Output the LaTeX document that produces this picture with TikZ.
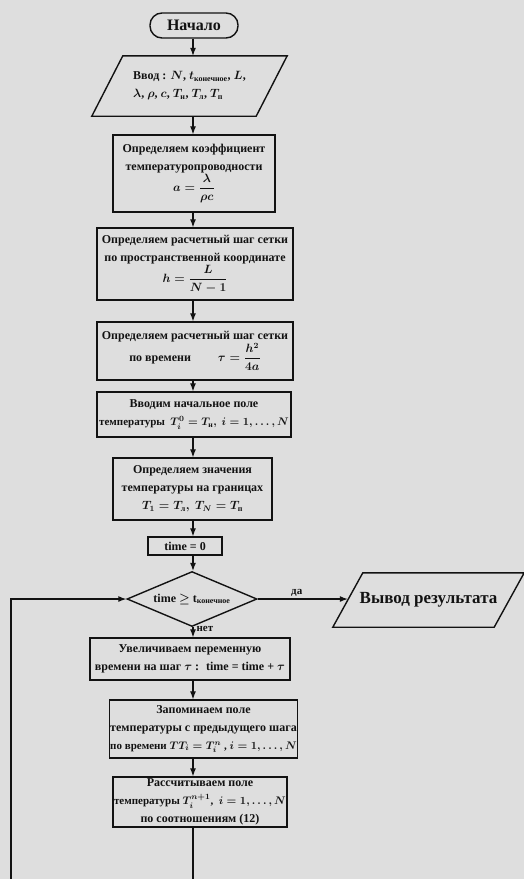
\documentclass[tikz,border=0pt]{standalone}
\usepackage{amsmath}
\usepackage{fontspec}
\setmainfont{Liberation Serif}
\usepackage{tikz}
\usetikzlibrary{positioning, shapes.geometric, arrows.meta}
\definecolor{fcPaper}{RGB}{222, 222, 222}
\definecolor{fcInk}{RGB}{18, 18, 18}
\tikzset{
    base/.style={
        font=\fontsize{12}{18}\selectfont\bfseries\boldmath,
        align=center,
        text=fcInk
    },
    block/.style={
        base,
        rectangle,
        draw=fcInk,
        line width=1.4pt,
        inner sep=1pt
    },
    terminal/.style={
        base,
        rectangle,
        rounded corners=12pt,
        draw=fcInk,
        line width=1.4pt,
        font=\fontsize{16}{18}\selectfont\bfseries
    },
    io/.style={
        base,
        rectangle,
        inner sep=1pt
    },
    decision/.style={
        base,
        diamond,
        draw=fcInk,
        line width=1.4pt,
        inner sep=0pt,
        aspect=2.4,
        font=\fontsize{12}{13}\selectfont\bfseries\boldmath
    },
    flow/.style={
        ->,
        >=LaTeX,
        line width=1.1pt,
        color=fcInk
    },
    tag/.style={
        base,
        font=\fontsize{11}{12}\selectfont\bfseries,
        inner sep=2pt
    }
}
% slanted outline around an io node
\newcommand{\slantbox}[2]{%
  \draw[line width=1.4pt, fcInk] ([xshift=#2]#1.north west) -- ([xshift=#2]#1.north east)
    -- ([xshift=-#2]#1.south east) -- ([xshift=-#2]#1.south west) -- cycle;}
% a slightly smaller formula line
\newcommand{\formline}{\fontsize{11}{18}\selectfont}

\begin{document}
\begin{tikzpicture}[x=1pt, y=-1pt]
  % Paper
  \clip (0,0) rectangle (524,879);
  \fill[fcPaper] (0,0) rectangle (524,879);
  \coordinate (col) at (193,0);

  % Main column
  \node[terminal, minimum width=88pt, minimum height=25pt] (start) at (194,25.5) {Начало};
  \node[io, align=left, minimum width=164pt, minimum height=60pt] (input) at (189.5,86)
    {Ввод : $N$, $t_{\text{конечное}}$, $L$,\\$\lambda$, $\rho$, $c$, $T_{\text{н}}$, $T_{\text{л}}$, $T_{\text{п}}$};
  \slantbox{input}{15.5pt}
  \node[block, minimum width=162pt, minimum height=77pt] (coef) at (194,173.5)
    {Определяем коэффициент\\температуропроводности\\$a=\dfrac{\lambda}{\rho c}$};
  \node[block, minimum width=196pt, minimum height=72pt] (hstep) at (195,264)
    {Определяем расчетный шаг сетки\\по пространственной координате\\$h=\dfrac{L}{N-1}$};
  \node[block, minimum width=196pt, minimum height=58pt] (tstep) at (195,351)
    {Определяем расчетный шаг сетки\\по времени \qquad $\tau=\dfrac{h^2}{4a}$};
  \node[block, minimum width=194pt, minimum height=45pt] (init) at (194,414.5)
    {Вводим начальное поле\\{\formline температуры \ $T_i^0=T_{\text{н}},\ i=1,\ldots,N$}};
  \node[block, minimum width=159pt, minimum height=62pt] (bound) at (192.5,489)
    {Определяем значения\\температуры на границах\\$T_1=T_{\text{л}},\ T_N=T_{\text{п}}$};
  \node[block, minimum width=74pt, minimum height=18pt] (tzero) at (185,546) {time = 0};
  \node[decision, minimum width=130pt, minimum height=55pt] (dec) at (192,599)
    {time $\geq$ t$_{\text{конечное}}$};
  \node[block, minimum width=200pt, minimum height=42pt] (inc) at (190,659)
    {Увеличиваем переменную\\времени на шаг $\tau$ : \ time = time + $\tau$};
  \node[block, minimum width=183pt, minimum height=58pt] (save) at (203.5,729)
    {Запоминаем поле\\температуры с предыдущего шага\\{\formline по времени $TT_i=T_i^n$ , $i=1,\ldots,N$}};
  \node[block, minimum width=174pt, minimum height=50pt] (calc) at (200,802)
    {Рассчитываем поле\\{\formline температуры $T_i^{n+1}$, \ $i=1,\ldots,N$}\\по соотношениям (12)};

  % Output
  \node[io, minimum width=161pt, minimum height=54pt, font=\fontsize{17}{19}\selectfont\bfseries]
    (out) at (428.5,600) {Вывод результата};
  \slantbox{out}{15pt}

  % Connections
  \foreach \a/\b in {start/input, input/coef, coef/hstep, hstep/tstep, tstep/init,
                     init/bound, bound/tzero, tzero/dec, inc/save, save/calc}
    \draw[flow] (\a.south -| col) -- (\b.north -| col);
  \draw[flow] (dec.south -| col) -- (inc.north -| col)
    node[tag, pos=0.2, right, xshift=1pt] {нет};
  \draw[flow] (dec.east) -- (dec.east -| out.west)
    node[tag, midway, above, xshift=-6pt] {да};

  % Loop back
  \coordinate (back) at (11,900);
  \draw[flow] (calc.south -| col) |- (back) |- (dec.west);

\end{tikzpicture}
\end{document}
